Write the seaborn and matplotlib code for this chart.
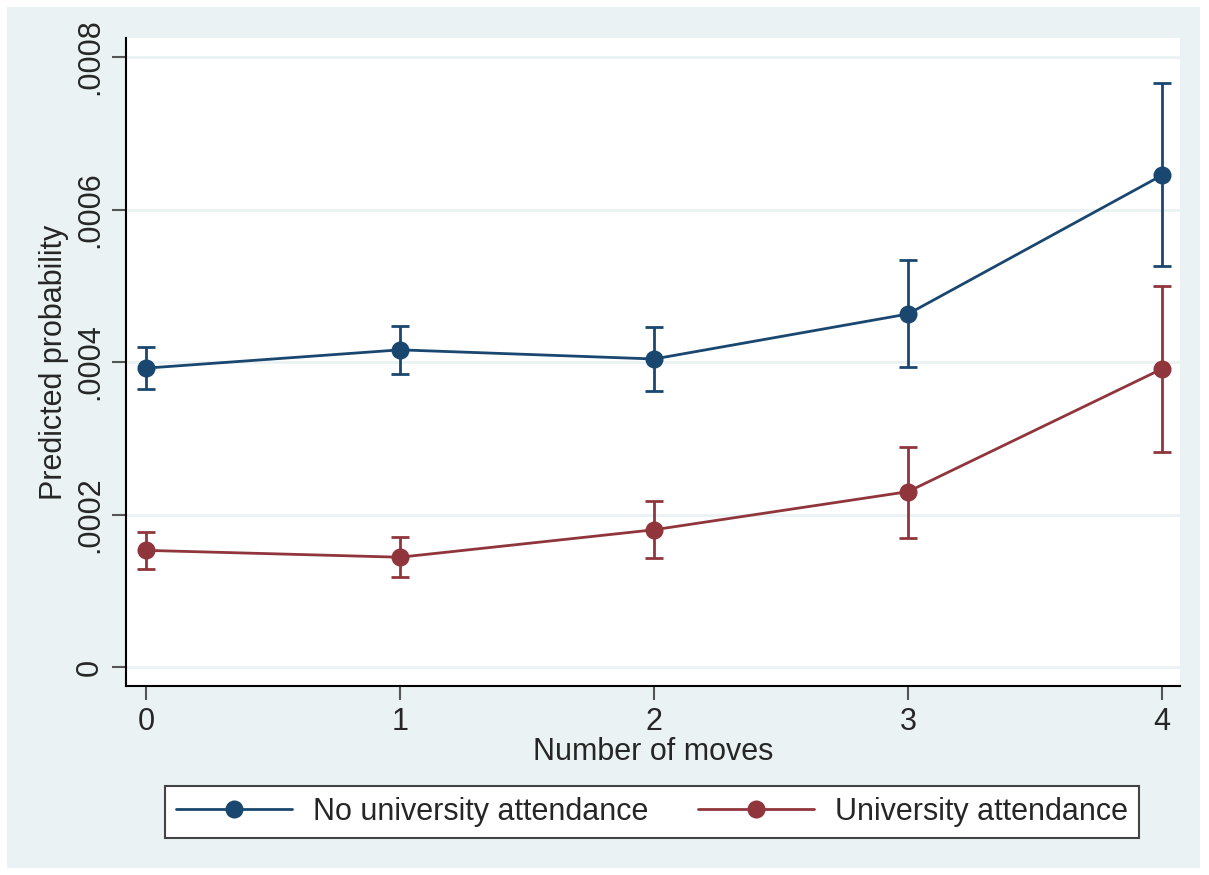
import numpy as np
import pandas as pd
import seaborn as sns
import matplotlib.pyplot as plt
from matplotlib.patches import Rectangle

# values
moves = [0, 1, 2, 3, 4]
no_uni = [0.000392, 0.000416, 0.000404, 0.000463, 0.000645]
no_uni_lo = [0.000365, 0.000384, 0.000362, 0.000393, 0.000526]
no_uni_hi = [0.000420, 0.000447, 0.000446, 0.000534, 0.000766]
uni = [0.000153, 0.000144, 0.000180, 0.000230, 0.000391]
uni_lo = [0.000129, 0.000118, 0.000143, 0.000169, 0.000282]
uni_hi = [0.000177, 0.000170, 0.000218, 0.000289, 0.000500]

groups = ["No university attendance", "University attendance"]
colors = ["#1a476f", "#90353b"]
y_ticks = [0, 0.0002, 0.0004, 0.0006, 0.0008]
y_tick_labels = ["0", ".0002", ".0004", ".0006", ".0008"]

df = pd.DataFrame({
    "moves": moves * 2,
    "prob": no_uni + uni,
    "lo": no_uni_lo + uni_lo,
    "hi": no_uni_hi + uni_hi,
    "group": [groups[0]] * 5 + [groups[1]] * 5,
})

sns.set_style("white")
plt.rcParams["font.family"] = ["Liberation Sans", "DejaVu Sans"]

bg = "#eaf2f3"
fig = plt.figure(figsize=(12.09, 8.75), dpi=100, facecolor="white")
fig.patches.append(Rectangle((7 / 1209, 7 / 875), 1193 / 1209, 861 / 875,
                             transform=fig.transFigure, facecolor=bg,
                             edgecolor="none", zorder=-1))
ax = fig.add_axes([126 / 1209, 189 / 875, 1054 / 1209, 648 / 875])
ax.set_facecolor("white")

for g, c in zip(groups, colors):
    d = df[df["group"] == g]
    ax.errorbar(d["moves"], d["prob"],
                yerr=[d["prob"] - d["lo"], d["hi"] - d["prob"]],
                fmt="none", ecolor=c, elinewidth=2, capsize=6.5, capthick=2, zorder=3)

sns.lineplot(data=df, x="moves", y="prob", hue="group", palette=colors,
             marker="o", markersize=13, markeredgewidth=0, linewidth=2,
             ax=ax, zorder=4)

ax.set_xlim(-0.0787, 4.0709)
ax.set_ylim(-0.0000249, 0.000825)
ax.set_xticks(moves)
ax.set_xticklabels([str(m) for m in moves], fontsize=22)
ax.set_yticks(y_ticks)
ax.set_yticklabels(y_tick_labels, fontsize=22, rotation=90, va="center")
ax.yaxis.grid(True, color=bg, linewidth=2)
ax.tick_params(axis="both", direction="out", length=10, width=1.5,
               color="#555555", left=True, bottom=True, pad=5)
for s in ["top", "right"]:
    ax.spines[s].set_visible(False)
for s in ["left", "bottom"]:
    ax.spines[s].set_color("black")
    ax.spines[s].set_linewidth(1.5)

ax.set_xlabel("Number of moves", fontsize=22, labelpad=0)
ax.set_ylabel("Predicted probability", fontsize=22)
ax.yaxis.set_label_coords(-0.054, 0.5)

handles, labels = ax.get_legend_handles_labels()
ax.get_legend().remove()
leg = fig.legend(handles, labels, loc="center", bbox_to_anchor=(652 / 1209, 1 - 812 / 875),
                 ncol=2, fontsize=22, frameon=True, fancybox=False,
                 facecolor="white", framealpha=1,
                 edgecolor="#444444", handlelength=3.8, columnspacing=1.6,
                 borderpad=0.35, handletextpad=0.7)
leg.get_frame().set_linewidth(1.5)

fig.savefig("out.png", dpi=100, facecolor=fig.get_facecolor())
